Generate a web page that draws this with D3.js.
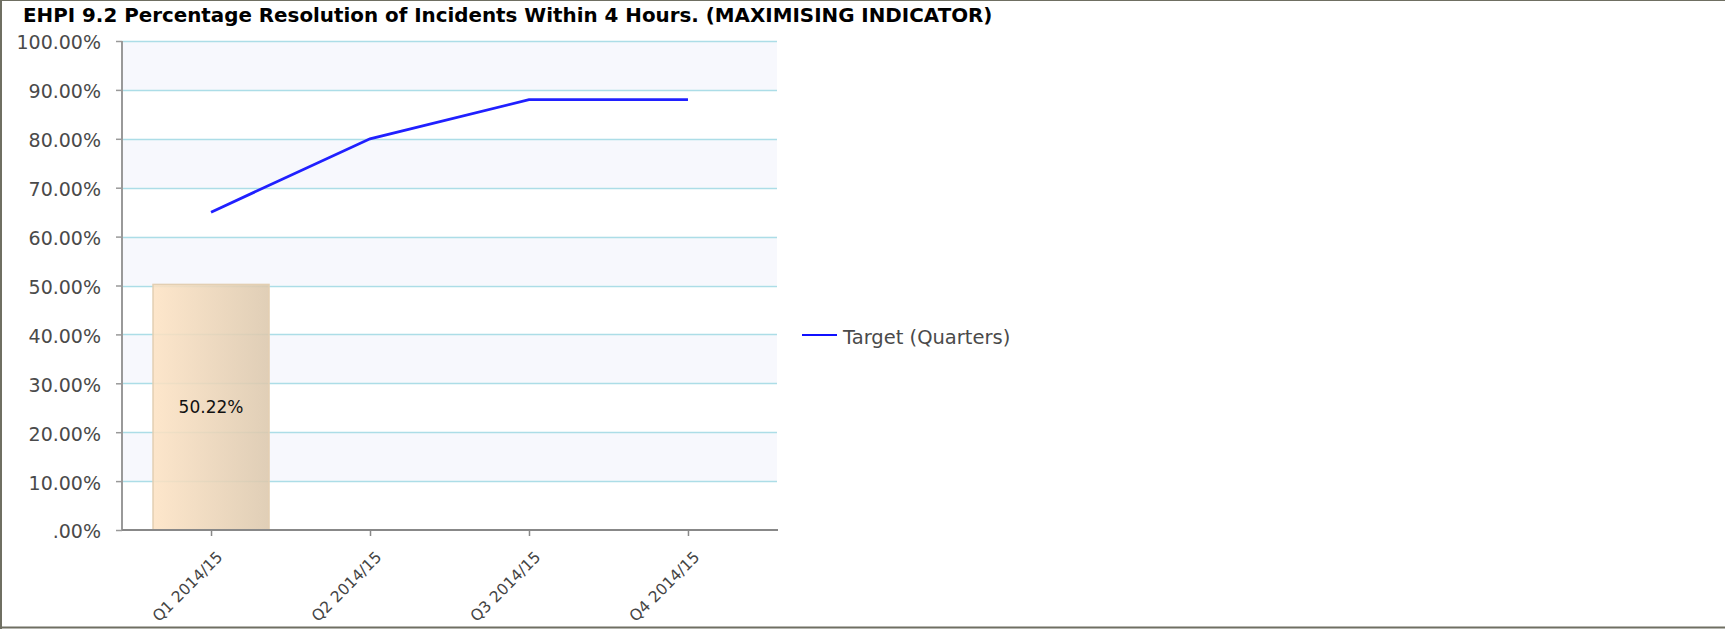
<!DOCTYPE html>
<html>
<head>
<meta charset="utf-8">
<script src="https://cdn.jsdelivr.net/npm/d3@7"></script>
<style>
  html, body { margin: 0; padding: 0; background: #fff; }
  svg { display: block; }
</style>
</head>
<body>
<svg id="chart" width="1725" height="629"></svg>
<script>
const titleText = "EHPI 9.2 Percentage Resolution of Incidents Within 4 Hours. (MAXIMISING INDICATOR)";
const categories = ["Q1 2014/15", "Q2 2014/15", "Q3 2014/15", "Q4 2014/15"];
const actualValues = [0.5022, null, null, null];
const actualLabels = ["50.22%", null, null, null];
const targetValues = [0.65, 0.80, 0.88, 0.88];
const targetName = "Target (Quarters)";
const yTicks = [0, 0.1, 0.2, 0.3, 0.4, 0.5, 0.6, 0.7, 0.8, 0.9, 1.0];
const yTickLabels = [".00%", "10.00%", "20.00%", "30.00%", "40.00%", "50.00%", "60.00%", "70.00%", "80.00%", "90.00%", "100.00%"];

const svg = d3.select("#chart");
const W = 1725, H = 629;
const L = 122, R = 777, T = 41, B = 530;

const x = d3.scalePoint().domain(categories).range([L, R]).padding(0.56);
const y = d3.scaleLinear().domain([0, 1]).range([B, T]);

// outer border
svg.append("line").attr("x1", 0).attr("x2", W).attr("y1", 0.5).attr("y2", 0.5)
  .attr("stroke", "#6f6f62").attr("stroke-width", 1);
svg.append("line").attr("x1", 1).attr("x2", 1).attr("y1", 0).attr("y2", H)
  .attr("stroke", "#6f6f62").attr("stroke-width", 2);
svg.append("line").attr("x1", 0).attr("x2", W).attr("y1", 627.5).attr("y2", 627.5)
  .attr("stroke", "#6f6f62").attr("stroke-width", 2);

// title
const title = svg.append("text").attr("x", 23).attr("y", 22)
  .attr("font-family", "DejaVu Sans").attr("font-weight", "bold")
  .attr("font-size", 17).attr("fill", "#000").text(titleText);
const tw = title.node().getComputedTextLength();
title.attr("font-size", 17 * 970 / tw);

// alternating bands
const bands = d3.pairs(yTicks).filter((p, i) => i % 2 === 1);
svg.append("g").selectAll("rect").data(bands).join("rect")
  .attr("x", L).attr("width", R - L)
  .attr("y", d => y(d[1])).attr("height", d => y(d[0]) - y(d[1]))
  .attr("fill", "#f7f8fd");

// grid lines
svg.append("g").selectAll("line").data(yTicks.slice(1)).join("line")
  .attr("x1", L).attr("x2", R)
  .attr("y1", d => Math.round(y(d)) + 0.5).attr("y2", d => Math.round(y(d)) + 0.5)
  .attr("stroke", "#acdde7").attr("stroke-width", 1.3);

// bar gradient
const defs = svg.append("defs");
const grad = defs.append("linearGradient").attr("id", "barGrad")
  .attr("x1", "0%").attr("x2", "100%").attr("y1", "0%").attr("y2", "0%");
grad.append("stop").attr("offset", "0%").attr("stop-color", "#fde3c4");
grad.append("stop").attr("offset", "100%").attr("stop-color", "#dcc8ad");

const barW = 116;
const barData = categories.map((c, i) => ({ c, v: actualValues[i], label: actualLabels[i] }))
  .filter(d => d.v != null);
svg.append("g").selectAll("rect").data(barData).join("rect")
  .attr("x", d => x(d.c) - barW / 2).attr("width", barW)
  .attr("y", d => y(d.v)).attr("height", d => y(0) - y(d.v))
  .attr("fill", "url(#barGrad)").attr("fill-opacity", 0.88)
  .attr("stroke", "#e3cfb2").attr("stroke-width", 1.5);

svg.append("g").selectAll("text").data(barData).join("text")
  .attr("x", d => x(d.c)).attr("y", d => (y(d.v) + y(0)) / 2)
  .attr("text-anchor", "middle").attr("dominant-baseline", "central")
  .attr("font-family", "DejaVu Sans").attr("font-size", 17).attr("fill", "#111")
  .text(d => d.label);

// target line
const lineGen = d3.line().x(d => x(d.c)).y(d => y(d.v));
svg.append("path")
  .datum(categories.map((c, i) => ({ c, v: targetValues[i] })))
  .attr("d", lineGen).attr("fill", "none")
  .attr("stroke", "#2020ff").attr("stroke-width", 2.8);

// y axis
const yAxis = svg.append("g").attr("transform", `translate(${L},0)`)
  .call(d3.axisLeft(y).tickValues(yTicks).tickSize(6).tickPadding(15)
    .tickFormat((d, i) => yTickLabels[i]));
yAxis.select(".domain").attr("stroke", "#999").attr("stroke-width", 2)
  .attr("d", `M0,${T}V${B}`);
yAxis.selectAll(".tick line").attr("stroke", "#999").attr("stroke-width", 1.5);
yAxis.selectAll(".tick text").attr("font-family", "DejaVu Sans").attr("font-size", 19)
  .attr("fill", "#4a4a4a").attr("dy", "0.42em");

// x axis
const xAxis = svg.append("g").attr("transform", `translate(0,${B})`)
  .call(d3.axisBottom(x).tickSize(6).tickPadding(0));
xAxis.select(".domain").attr("stroke", "#888").attr("stroke-width", 2)
  .attr("d", `M${L},0H${R + 1}`);
xAxis.selectAll(".tick line").attr("stroke", "#888").attr("stroke-width", 1.5);
xAxis.selectAll(".tick text")
  .attr("font-family", "DejaVu Sans").attr("font-size", 15.5).attr("fill", "#444")
  .attr("text-anchor", "end").attr("dy", null).attr("y", null)
  .attr("transform", "translate(12,28) rotate(-45)");

// legend
const lg = svg.append("g").attr("transform", "translate(802,335)");
lg.append("line").attr("x1", 0).attr("x2", 35).attr("y1", 0).attr("y2", 0)
  .attr("stroke", "#1010ff").attr("stroke-width", 2);
lg.append("text").attr("x", 41).attr("y", 2).attr("dominant-baseline", "central")
  .attr("font-family", "DejaVu Sans").attr("font-size", 19.5).attr("fill", "#4a4a4a")
  .text(targetName);
</script>
</body>
</html>
